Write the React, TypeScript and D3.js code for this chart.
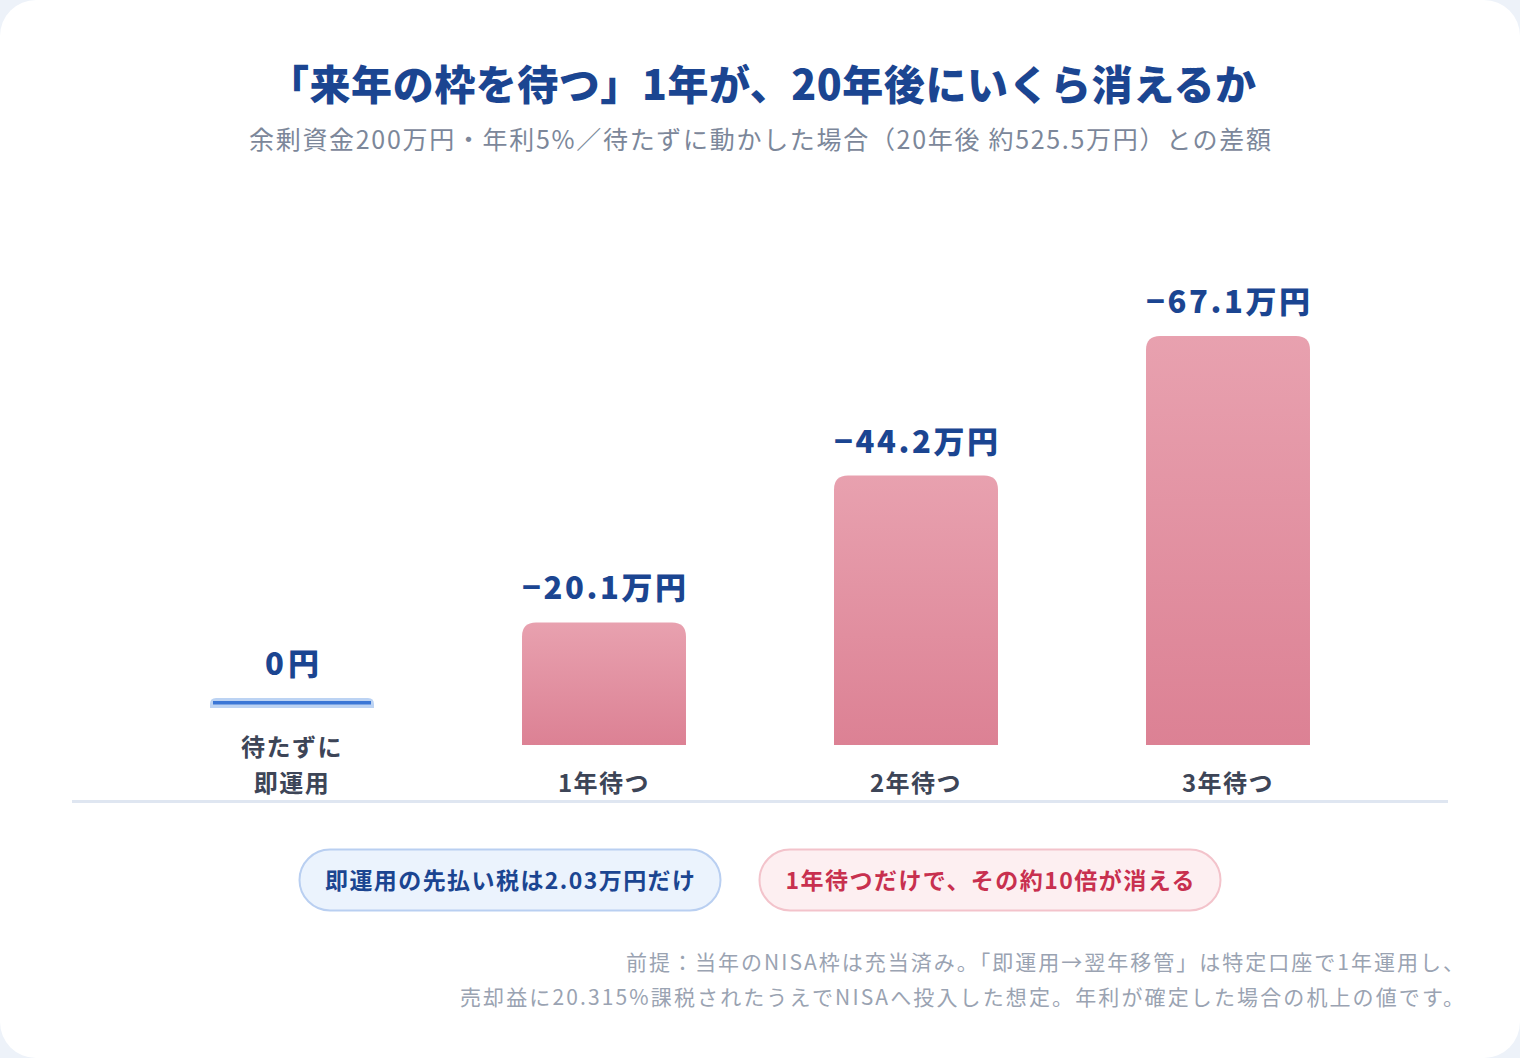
import React from 'react';
import * as d3 from 'd3';

// chart data
const categories = ['待たずに\n即運用', '1年待つ', '2年待つ', '3年待つ'];
const losses = [0, 20.1, 44.2, 67.1]; // 万円 lost vs investing right away
const titleText = '「来年の枠を待つ」1年が、20年後にいくら消えるか';
const subtitleText = '余剰資金200万円・年利5%／待たずに動かした場合（20年後 約525.5万円）との差額';
const pillTexts = ['即運用の先払い税は2.03万円だけ', '1年待つだけで、その約10倍が消える'];
const noteLines = [
  '前提：当年のNISA枠は充当済み。「即運用→翌年移管」は特定口座で1年運用し、',
  '売却益に20.315%課税されたうえでNISAへ投入した想定。年利が確定した場合の机上の値です。',
];

const W = 1520;
const H = 1058;
const FONT = '"Noto Sans CJK JP", "Noto Sans", sans-serif';
const NAVY = '#1b4591';

const fmt = (v: number) => (v === 0 ? '0円' : `−${v.toFixed(1)}万円`);

// rounded top corners only
function topRounded(x: number, yt: number, w: number, yb: number, r: number) {
  return `M${x},${yb}L${x},${yt + r}Q${x},${yt} ${x + r},${yt}L${x + w - r},${yt}Q${x + w},${yt} ${x + w},${yt + r}L${x + w},${yb}Z`;
}

export default function App() {
  const x = d3.scaleBand<string>()
    .domain(categories)
    .range([136, 1384])
    .paddingInner(0.4744)
    .paddingOuter(0.2372);
  const y = d3.scaleLinear().domain([0, 67.1]).range([745, 336]);
  const lineH = 36;

  return (
    <svg width={W} height={H} style={{ position: 'absolute', left: 0, top: 0 }} fontFamily={FONT}>
      <defs>
        <linearGradient id="barGrad" x1="0" y1="0" x2="0" y2="1">
          <stop offset="0%" stopColor="#e8a1af" />
          <stop offset="100%" stopColor="#dc8194" />
        </linearGradient>
      </defs>
      <rect x={0} y={0} width={W} height={H} fill="#edf2f9" />
      <rect x={0} y={0} width={W} height={H} rx={36} fill="#ffffff" />

      <text x={762} y={100} textAnchor="middle" fontSize={41} fontWeight={900} fill={NAVY}
        textLength={988} lengthAdjust="spacing">
        {titleText}
      </text>
      <text x={760} y={149} textAnchor="middle" fontSize={25} fill="#7c879a"
        textLength={1022} lengthAdjust="spacing">
        {subtitleText}
      </text>

      {categories.map((c, i) => {
        const lines = c.split('\n');
        const bx = x(c) as number;
        const bw = x.bandwidth();
        const cx = bx + bw / 2;
        const base = y(0) - (lines.length - 1) * lineH;
        const v = losses[i];
        const top = v === 0 ? base - 11 : y(v) - (745 - base);
        const label = fmt(v);
        return (
          <g key={c}>
            {v === 0 ? (
              <g>
                <path d={topRounded(bx, top, bw, base - 1, 6)} fill="#bcd3f3" />
                <rect x={bx + 3} y={top + 3} width={bw - 6} height={3.5} fill="#3a76d6" />
              </g>
            ) : (
              <path d={topRounded(bx, top, bw, base, 14)} fill="url(#barGrad)" />
            )}
            <text x={cx} y={top - 23} textAnchor="middle" fontSize={31} fontWeight={900} fill={NAVY}
              textLength={v === 0 ? 54 : 164} lengthAdjust="spacing">
              {label}
            </text>
            {lines.map((l, j) => (
              <text key={j} x={cx} y={792 - (lines.length - 1 - j) * lineH} textAnchor="middle"
                fontSize={24} fontWeight={700} fill="#3d4557" letterSpacing={1.5}>
                {l}
              </text>
            ))}
          </g>
        );
      })}

      <rect x={72} y={800} width={1376} height={3} fill="#dfe6f1" />

      <rect x={299.5} y={849.5} width={421} height={61} rx={30.5} fill="#ebf3fd" stroke="#b9cff1" strokeWidth={2} />
      <text x={510} y={889} textAnchor="middle" fontSize={23} fontWeight={700} fill={NAVY}
        textLength={370} lengthAdjust="spacing">
        {pillTexts[0]}
      </text>
      <rect x={759.5} y={849.5} width={461} height={61} rx={30.5} fill="#fdeff1" stroke="#f3c3cb" strokeWidth={2} />
      <text x={990} y={889} textAnchor="middle" fontSize={23} fontWeight={700} fill="#c8304f"
        textLength={409} lengthAdjust="spacing">
        {pillTexts[1]}
      </text>

      {noteLines.map((l, i) => (
        <text key={i} x={1464} y={970 + i * 35} textAnchor="end" fontSize={21} fill="#9aa3b2"
          textLength={i === 0 ? 838 : 1004} lengthAdjust="spacing">
          {l}
        </text>
      ))}
    </svg>
  );
}
